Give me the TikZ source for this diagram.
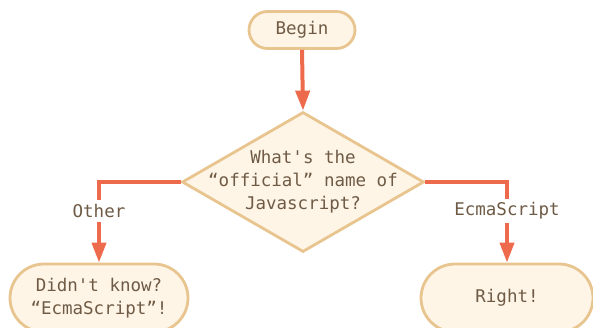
\documentclass[tikz,border=0pt]{standalone}
\usepackage{fontspec}
\setmonofont{DejaVu Sans Mono}
\usetikzlibrary{shapes.geometric,shapes.misc,arrows.meta}
\definecolor{cream}{HTML}{FEF5E6}
\definecolor{sand}{HTML}{E8C48F}
\definecolor{coral}{HTML}{EE6A4C}
\definecolor{cocoa}{HTML}{6F5B45}

\begin{document}
\begin{tikzpicture}[x=1pt,y=-1pt,
  txt/.style={font=\ttfamily\fontsize{17.5}{23}\selectfont, text=cocoa, align=center},
  termbox/.style={txt, rounded rectangle, draw=sand, fill=cream, line width=2.8pt, inner sep=0pt},
  decision/.style={diamond, draw=sand, fill=cream, line width=2.8pt, inner sep=0pt,
                   minimum width=242pt, minimum height=140pt},
  flow/.style={draw=coral, line width=4pt, -{Triangle[width=14pt,length=20pt]}},
  branch/.style={txt, fill=white, inner sep=4pt}]
% Page frame
\useasboundingbox (0,0) rectangle (593,327);
\clip (0,0) rectangle (593,327);
% Start
\node[termbox, minimum width=106pt, minimum height=37pt] (begin) at (302,30) {Begin};
% Question
\node[decision] (question) at (303,182) {};
\node[txt] (qtext) at (question.center) {What's the\\“official” name of\\Javascript?};
% Outcomes
\node[termbox, minimum width=178pt, minimum height=68pt] (wrong) at (99,298) {Didn't know?\\“EcmaScript”!};
\node[termbox, minimum width=172pt, minimum height=68pt] (right) at (507,298) {Right!};
% Connectors
\draw[flow] (begin.south) -- (question.north);
\draw[flow] (question.west) -| node[branch, pos=0.68] {Other} (wrong.north);
\draw[flow] (question.east) -| node[branch, pos=0.68] {EcmaScript} (right.north);
\end{tikzpicture}
\end{document}
